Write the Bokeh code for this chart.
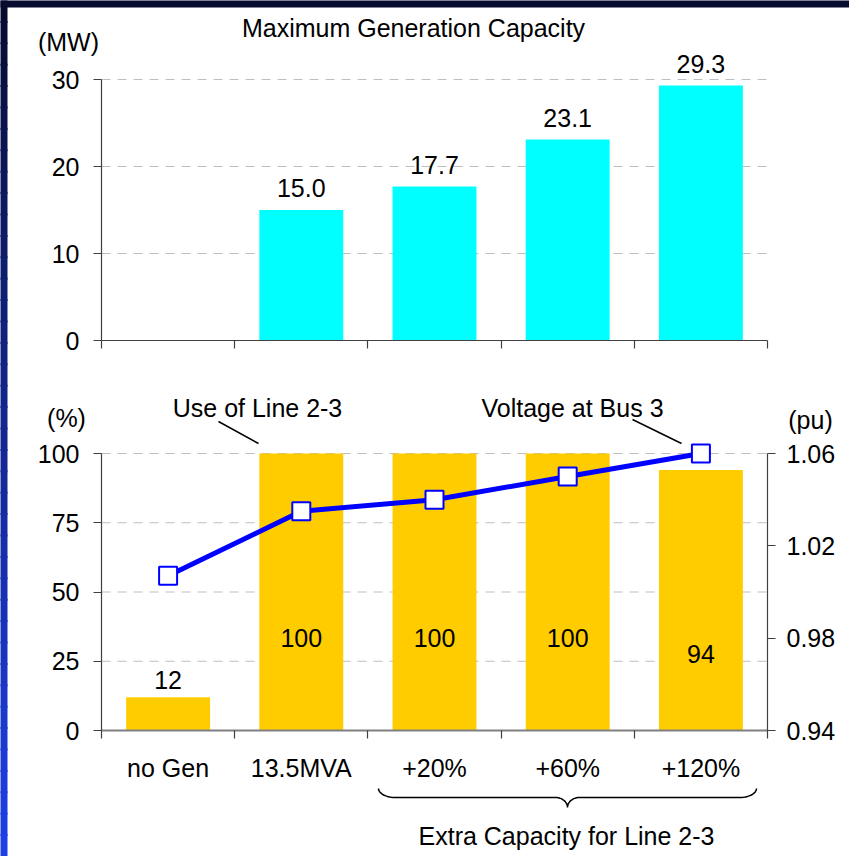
import numpy as np
from bokeh.plotting import figure
from bokeh.models import (Range1d, LinearAxis, FixedTicker, ColumnDataSource, LabelSet,
                          Label, NumeralTickFormatter)
from bokeh.embed import file_html
from bokeh.resources import INLINE
from bokeh.core.properties import value

# ---------------- data ----------------
categories = ["no Gen", "13.5MVA", "+20%", "+60%", "+120%"]
max_gen_mw = [0.0, 15.0, 17.7, 23.1, 29.3]
line_use_pct = [12, 100, 100, 100, 94]
bus3_voltage_pu = [1.007, 1.035, 1.040, 1.050, 1.060]
mw_ticks = [0, 10, 20, 30]
pct_ticks = [0, 25, 50, 75, 100]
pu_ticks = [0.94, 0.98, 1.02, 1.06]

title_top = "Maximum Generation Capacity"
unit_mw = "(MW)"
unit_pct = "(%)"
unit_pu = "(pu)"
note_use = "Use of Line 2-3"
note_volt = "Voltage at Bus 3"
group_label = "Extra Capacity for Line 2-3"

# ---------------- style / layout ----------------
FONT = "Liberation Sans"
FS = "25px"
CYAN = "#00FFFF"
GOLD = "#FFCC00"
BLUE = "#0000FF"
AXIS = "#404040"
GRID = "#BFBFBF"
W, H = 849, 856
PLOT_L, PLOT_R = 101, 767           # pixel columns of both plotting areas
TOP_Y0, TOP_Y1 = 340, 79            # pixel rows of 0 / 30 MW
BOT_Y0, BOT_Y1 = 730, 453           # pixel rows of 0 / 100 %
n = len(categories)
xpos = [i + 0.5 for i in range(n)]  # category slot centres
edges = list(range(n + 1))          # category slot boundaries


def rng(v0, v1, p0, p1, total):
    """Range so that value v0 sits p0 px and v1 sits p1 px from the start of a canvas side."""
    s = (v1 - v0) / (p1 - p0)
    return Range1d(v0 - p0 * s, v0 + (total - p0) * s)


p = figure(width=W, height=H,
           x_range=rng(0, n, PLOT_L, PLOT_R, W),
           y_range=rng(pct_ticks[0], pct_ticks[-1], H - BOT_Y0, H - BOT_Y1, H),
           output_backend="svg", toolbar_location=None,
           x_axis_location=None, y_axis_location=None, min_border=0)
p.extra_y_ranges = {
    "mw": rng(mw_ticks[0], mw_ticks[-1], H - TOP_Y0, H - TOP_Y1, H),
    "pu": rng(pu_ticks[0], pu_ticks[-1], H - BOT_Y0, H - BOT_Y1, H),
}
p.xgrid.visible = False
p.ygrid.visible = False
p.outline_line_color = None
p.background_fill_color = "white"
p.border_fill_color = "white"

XR, YR = p.x_range, p.y_range
SX = (XR.end - XR.start) / W
SY = (YR.end - YR.start) / H


def px(X, Y):
    """canvas pixel -> default-range data coordinates (annotation placement only)"""
    return XR.start + X * SX, YR.end - Y * SY


# dark-blue slide border on the top / left edge (decoration)
steps = 40
c0, c1 = np.array([6, 10, 45]), np.array([30, 64, 230])
for k in range(steps):
    ya, yb = H * k / steps, H * (k + 1) / steps
    f = ((ya + yb) / 2) / H
    col = "#%02x%02x%02x" % tuple(int(v) for v in (c0 + (c1 - c0) * f ** 0.9))
    p.quad(left=XR.start - SX, right=XR.start + 7 * SX, top=YR.end - ya * SY + SY,
           bottom=YR.end - yb * SY - SY, fill_color=col, line_color=None)
p.quad(left=XR.start - SX, right=XR.end, top=YR.end + SY, bottom=YR.end - 7 * SY,
       fill_color="#070b2e", line_color=None)


def y_axis(ticks, loc, standoff, **kw):
    ax = LinearAxis(ticker=FixedTicker(ticks=ticks), fixed_location=loc,
                    bounds=(ticks[0], ticks[-1]), **kw)
    ax.axis_line_color = AXIS
    ax.axis_line_width = 1.2
    ax.major_tick_line_color = AXIS
    ax.major_tick_line_width = 1.2
    ax.major_tick_in = 0
    ax.major_tick_out = 8
    ax.minor_tick_line_color = None
    ax.major_label_text_font = FONT
    ax.major_label_text_font_size = FS
    ax.major_label_text_color = "black"
    ax.major_label_standoff = standoff
    return ax


def x_axis(ticks, labels, color, width, standoff, **kw):
    ax = LinearAxis(ticker=FixedTicker(ticks=ticks, minor_ticks=edges), fixed_location=0,
                    bounds=(0, n), major_label_overrides=labels, **kw)
    ax.axis_line_color = color
    ax.axis_line_width = width
    ax.major_tick_line_color = None
    ax.major_tick_in = 0
    ax.major_tick_out = 0
    ax.minor_tick_line_color = AXIS
    ax.minor_tick_line_width = 1.2
    ax.minor_tick_in = 0
    ax.minor_tick_out = 8
    ax.major_label_text_font = FONT
    ax.major_label_text_font_size = FS
    ax.major_label_text_color = "black"
    ax.major_label_standoff = standoff
    return ax


def hgrid(ticks, **kw):
    k = len(ticks)
    p.segment(x0=[0] * k, x1=[n] * k, y0=ticks, y1=ticks, line_color=GRID,
              line_width=1, line_dash="9 7", **kw)


def text_label(X, Y, txt):
    x, y = px(X, Y)
    p.add_layout(Label(x=x, y=y, text=txt, text_align="center", text_baseline="middle",
                       text_font=FONT, text_font_size=FS, text_color="black"))


def leader(X0, Y0, X1, Y1):
    a, b = px(X0, Y0)
    c, d = px(X1, Y1)
    p.segment(x0=[a], y0=[b], x1=[c], y1=[d], line_color="black", line_width=1.5)


# ---------------- top chart: maximum generation capacity (MW) ----------------
hgrid(mw_ticks[1:], y_range_name="mw")
p.vbar(x=xpos, top=max_gen_mw, width=0.63, fill_color=CYAN, line_color=None,
       y_range_name="mw")
p.add_layout(y_axis(mw_ticks, 0, 14, y_range_name="mw"), "left")
p.add_layout(x_axis([], {}, AXIS, 1.2, 0, y_range_name="mw"), "below")

src1 = ColumnDataSource(dict(
    x=[x for x, v in zip(xpos, max_gen_mw) if v > 0],
    y=[v for v in max_gen_mw if v > 0],
    t=[f"{v:.1f}" for v in max_gen_mw if v > 0]))
p.add_layout(LabelSet(x="x", y="y", text="t", source=src1, y_offset=22, y_range_name="mw",
                      text_align="center", text_baseline="middle",
                      text_font=value(FONT), text_font_size=value(FS), text_color="black"))
text_label(413, 27, title_top)
text_label(68, 41, unit_mw)

# ---------------- bottom chart: line use (%) and bus voltage (pu) ----------------
hgrid(pct_ticks[1:])
p.vbar(x=xpos, top=line_use_pct, width=0.63, fill_color=GOLD, line_color=None)

p.add_layout(y_axis(pct_ticks, 0, 14), "left")
p.add_layout(y_axis(pu_ticks, n, 11, y_range_name="pu",
                    formatter=NumeralTickFormatter(format="0.00")), "right")
p.add_layout(x_axis(xpos, {x: c for x, c in zip(xpos, categories)}, "#808080", 2, 15),
             "below")

small = [(x, v) for x, v in zip(xpos, line_use_pct) if v < 50]
big = [(x, v) for x, v in zip(xpos, line_use_pct) if v >= 50]
src_small = ColumnDataSource(dict(x=[x for x, v in small], y=[v for x, v in small],
                                  t=[str(v) for x, v in small]))
src_big = ColumnDataSource(dict(x=[x for x, v in big], y=[v for x, v in big],
                                t=[str(v) for x, v in big]))
for src, off in ((src_small, 17), (src_big, -184)):
    p.add_layout(LabelSet(x="x", y="y", text="t", source=src, y_offset=off,
                          text_align="center", text_baseline="middle",
                          text_font=value(FONT), text_font_size=value(FS),
                          text_color="black"))

p.line(x=xpos, y=bus3_voltage_pu, y_range_name="pu", line_width=5, line_color=BLUE)
p.scatter(x=xpos, y=bus3_voltage_pu, y_range_name="pu", marker="square", size=18,
          fill_color="white", line_color=BLUE, line_width=2)

text_label(66, 417, unit_pct)
text_label(810, 419, unit_pu)
text_label(257, 407, note_use)
text_label(572, 407, note_volt)
leader(218, 421, 258, 443)
leader(632, 419, 681, 443)

# curly brace under the "extra capacity" group (canvas pixel geometry)
bx0, bx1, btip = 378, 756, 567
ytop, ybar, ytip = 788, 797, 807
dxe, dxt = 17, 12
t = np.linspace(0, np.pi / 2, 14)
lx = list(bx0 + dxe * (1 - np.cos(t))) + list(btip - dxt + dxt * np.sin(t))
ly = list(ytop + (ybar - ytop) * np.sin(t)) + list(ybar + (ytip - ybar) * (1 - np.cos(t)))
rx = [bx0 + bx1 - v for v in reversed(lx)]
ry = list(reversed(ly))
pts = [px(X, Y) for X, Y in zip(lx + rx, ly + ry)]
p.line(x=[q[0] for q in pts], y=[q[1] for q in pts], line_color="black", line_width=1.5)
text_label(566, 835, group_label)

open("out.html", "w").write(file_html(p, INLINE))
